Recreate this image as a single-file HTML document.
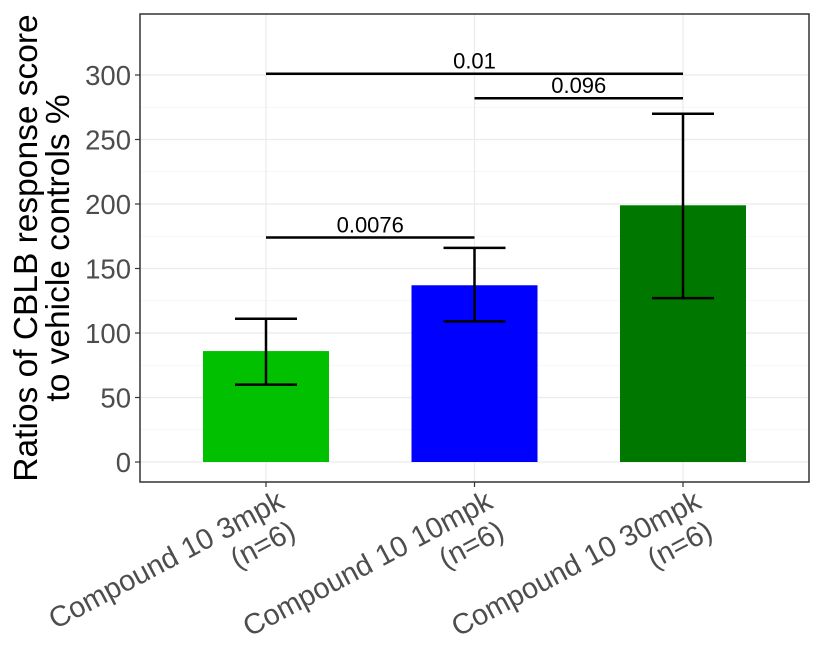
<!DOCTYPE html>
<html><head><meta charset="utf-8"><style>
body{margin:0;background:#fff}
svg{display:block;font-family:"Liberation Sans",sans-serif}
</style></head><body>
<svg id="chart" width="816" height="648"></svg>
<script>
const categories=["Compound 10 3mpk","Compound 10 10mpk","Compound 10 30mpk"];
const nLabels=["(n=6)","(n=6)","(n=6)"];
const values=[86,137,199];
const errLow=[60,109,127];
const errHigh=[111,166,270];
const colors=["#00c000","#0000ff","#007800"];
const yTicks=[0,50,100,150,200,250,300];
const brackets=[{a:0,b:2,y:301,label:"0.01"},{a:1,b:2,y:282,label:"0.096"},{a:0,b:1,y:174,label:"0.0076"}];
const NS="http://www.w3.org/2000/svg";
const svg=document.getElementById('chart');
const L=140,R=809,T=14,B=482;
const y0=462,k=387/300;
function ys(v){return y0-v*k;}
const cx=[266,474,683];
function xs(i){return cx[0]+i*(cx[2]-cx[0])/2;}
function mk(t,a,p){const e=document.createElementNS(NS,t);for(const q in a)e.setAttribute(q,a[q]);(p||svg).appendChild(e);return e;}
for(let i=0;i<yTicks.length;i++){
 const l=mk('line',{x1:L,x2:R,y1:ys(yTicks[i]),y2:ys(yTicks[i]),stroke:'#ebebeb','stroke-width':1.2});
 
 if(i<yTicks.length-1){const v=(yTicks[i]+yTicks[i+1])/2;
 const m=mk('line',{x1:L,x2:R,y1:ys(v),y2:ys(v),stroke:'#f4f4f4','stroke-width':0.8});
 }
 const tk=mk('line',{x1:L-5,x2:L,y1:ys(yTicks[i]),y2:ys(yTicks[i]),stroke:'#333','stroke-width':1.2});
 
 const tx=mk('text',{x:L-9,y:ys(yTicks[i])+10,'text-anchor':'end','font-size':27.5,fill:'#4d4d4d'});
 tx.textContent=yTicks[i];
 
}
for(let i=0;i<categories.length;i++){
 const g=mk('line',{x1:xs(i),x2:xs(i),y1:T,y2:B,stroke:'#ebebeb','stroke-width':1.2});
 
}
for(let i=0;i<categories.length;i++){
 const w=126;
 const b=mk('rect',{x:xs(i)-w/2,y:ys(values[i]),width:w,height:ys(0)-ys(values[i]),fill:colors[i]});
 
 const eg=mk('g',{stroke:'#000','stroke-width':2.5,fill:'none'});
 
 mk('line',{x1:xs(i),x2:xs(i),y1:ys(errLow[i]),y2:ys(errHigh[i])},eg);
 mk('line',{x1:xs(i)-31,x2:xs(i)+31,y1:ys(errLow[i]),y2:ys(errLow[i])},eg);
 mk('line',{x1:xs(i)-31,x2:xs(i)+31,y1:ys(errHigh[i]),y2:ys(errHigh[i])},eg);
 const tk=mk('line',{x1:xs(i),x2:xs(i),y1:B,y2:B+5,stroke:'#333','stroke-width':1.2});
 
 const t=mk('text',{transform:`translate(${xs(i)+20},${B+25}) rotate(-28)`,'text-anchor':'end','font-size':29,fill:'#4d4d4d'});
 
 const s1=mk('tspan',{x:0,y:0},t);s1.textContent=categories[i];
 const s2=mk('tspan',{x:-4,y:32},t);s2.textContent=nLabels[i];
}
for(const br of brackets){
 const l=mk('line',{x1:xs(br.a),x2:xs(br.b),y1:ys(br.y),y2:ys(br.y),stroke:'#000','stroke-width':2.5});
 
 const t=mk('text',{x:(xs(br.a)+xs(br.b))/2,y:ys(br.y)-5,'text-anchor':'middle','font-size':22,fill:'#000'});
 t.textContent=br.label;
 
}
const fr=mk('rect',{x:L,y:T,width:R-L,height:B-T,fill:'none',stroke:'#333','stroke-width':1.5});

const yt=mk('text',{transform:'translate(0,248) rotate(-90)','text-anchor':'middle','font-size':33.5,fill:'#000'});

const a1=mk('tspan',{x:0,y:37},yt);a1.textContent='Ratios of CBLB response score';
const a2=mk('tspan',{x:0,y:69},yt);a2.textContent='to vehicle controls %';
</script>
</body></html>
